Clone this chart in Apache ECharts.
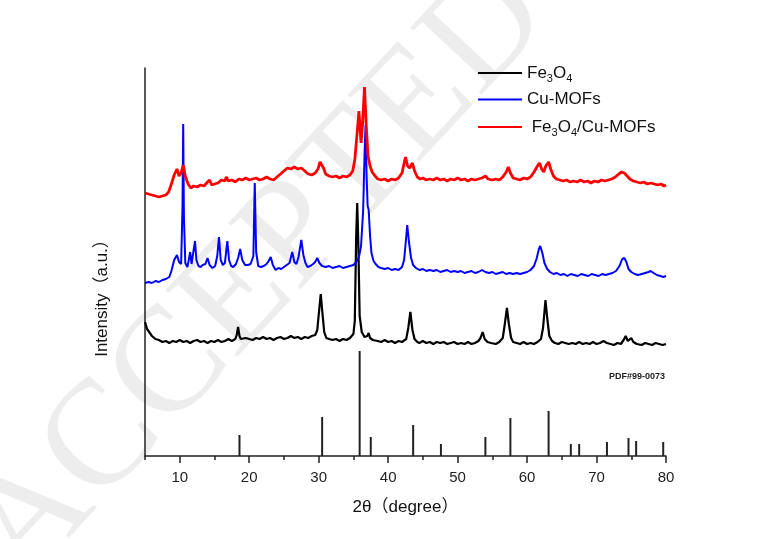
<!DOCTYPE html>
<html>
<head>
<meta charset="utf-8">
<script src="https://cdn.jsdelivr.net/npm/echarts@6/dist/echarts.min.js"></script>
<style>
html, body {margin: 0; padding: 0; background: #fff;}
#main {width: 763px; height: 539px;}
</style>
</head>
<body>
<div id="main"></div>
<script>
// XRD 数据 (2θ, 强度 a.u.)
var fe3o4Line = [[5,134],[5.3,127],[5.6,124],[6,120],[6.5,117],[7,116],[7.5,114],[8,115],[8.5,113],[9,115],[9.5,114],[10,116],[10.5,114],[11,115],[11.5,113],[12,115],[12.5,116],[13,114],[13.5,115],[14,113],[14.5,115],[15,114],[15.5,116],[16,114],[16.5,115],[17,117],[17.5,115],[18,117],[18.2,121],[18.4,129],[18.6,120],[18.8,117],[19,116],[19.5,118],[20,117],[20.5,116],[21,118],[21.5,117],[22,119],[22.5,117],[23,118],[23.5,116],[24,118],[24.5,119],[25,117],[25.5,118],[26,120],[26.5,118],[27,119],[27.5,117],[28,119],[28.5,118],[29,120],[29.5,121],[29.8,126],[30.1,148],[30.3,162],[30.5,146],[30.8,124],[31.1,118],[31.5,117],[32,116],[32.5,117],[33,115],[33.5,117],[34,116],[34.5,118],[35,122],[35.2,135],[35.4,220],[35.55,253],[35.7,215],[35.9,140],[36.2,124],[36.6,119],[37,120],[37.2,123],[37.4,118],[37.8,116],[38.5,115],[39,114],[39.5,116],[40,114],[40.5,115],[41,113],[41.5,115],[42,114],[42.6,117],[42.9,128],[43.2,144],[43.5,126],[43.8,117],[44.2,114],[44.5,113],[45,115],[45.5,113],[46,114],[46.5,112],[47,114],[47.5,113],[48,114],[48.5,112],[49,113],[49.5,114],[50,112],[50.5,113],[51,112],[51.5,114],[52,112],[52.5,113],[53,115],[53.3,118],[53.6,124],[53.9,117],[54.3,114],[54.8,113],[55.5,112],[56,114],[56.5,118],[56.8,132],[57.1,148],[57.4,131],[57.7,118],[58,114],[58.5,113],[59,112],[59.5,114],[60,112],[60.5,113],[61,112],[61.5,114],[62,117],[62.3,128],[62.65,156],[62.9,138],[63.2,120],[63.6,115],[64,113],[64.5,112],[65,114],[65.5,113],[66,112],[66.5,113],[67,112],[67.5,114],[68,112],[68.5,113],[69,112],[69.5,114],[70,112],[70.5,113],[71,115],[71.2,116],[71.5,113],[72,112],[72.5,111],[73,113],[73.5,112],[73.9,116],[74.2,120],[74.5,115],[75,118],[75.3,114],[75.8,112],[76.5,111],[77,113],[77.5,112],[78,111],[78.5,113],[79,112],[79.5,111],[80,112]];

var cuMofLine = [[5,173],[5.5,174],[6,173],[6.5,175],[7,174],[7.5,176],[8,177],[8.5,179],[8.8,185],[9.2,196],[9.6,201],[9.9,194],[10.2,192],[10.4,250],[10.5,332],[10.6,240],[10.8,193],[11.1,189],[11.3,196],[11.5,204],[11.7,192],[11.9,191],[12.2,215],[12.4,196],[12.7,190],[13,189],[13.3,191],[13.7,192],[14,198],[14.3,191],[14.7,188],[15.1,190],[15.4,200],[15.65,219],[15.9,196],[16.2,191],[16.5,193],[16.85,215],[17.1,196],[17.4,190],[17.7,189],[18.1,192],[18.4,198],[18.7,207],[19,196],[19.4,191],[19.8,191],[20.2,192],[20.6,200],[20.8,273],[21,204],[21.3,190],[21.7,189],[22.1,190],[22.5,192],[22.8,195],[23.1,199],[23.4,191],[23.8,186],[24.2,188],[24.6,187],[25,189],[25.4,191],[25.8,193],[26.2,204],[26.5,194],[26.8,192],[27.1,199],[27.5,216],[27.8,201],[28.1,193],[28.4,189],[28.8,190],[29.2,192],[29.5,194],[29.8,198],[30.1,193],[30.5,190],[31,189],[31.5,190],[32,188],[32.5,189],[33,190],[33.5,188],[34,189],[34.5,190],[35,191],[35.4,194],[35.8,199],[36.1,210],[36.4,245],[36.6,300],[36.75,331],[36.9,280],[37.05,250],[37.2,246],[37.4,220],[37.6,203],[37.9,195],[38.2,192],[38.6,189],[39,188],[39.5,187],[40,188],[40.5,186],[41,187],[41.5,186],[42,189],[42.3,196],[42.55,215],[42.75,231],[43,214],[43.3,198],[43.6,191],[44,188],[44.5,186],[45,187],[45.5,185],[46,186],[46.5,185],[47,186],[47.5,184],[48,185],[48.5,186],[49,184],[49.5,185],[50,184],[50.5,185],[51,183],[51.5,184],[52,185],[52.5,183],[53,184],[53.5,186],[54,184],[54.5,183],[55,184],[55.5,182],[56,183],[56.5,184],[57,182],[57.5,183],[58,182],[58.5,183],[59,182],[59.5,183],[60,184],[60.5,186],[61,190],[61.4,198],[61.7,207],[61.9,210],[62.2,203],[62.5,193],[62.9,187],[63.3,184],[63.8,182],[64.3,183],[64.8,181],[65.3,182],[65.8,180],[66.3,182],[66.8,181],[67.3,180],[67.8,182],[68.3,181],[68.8,180],[69.3,182],[69.8,181],[70.3,180],[70.8,182],[71.3,181],[71.8,182],[72.3,183],[72.8,185],[73.3,190],[73.7,197],[74,198],[74.3,194],[74.6,187],[75,184],[75.5,182],[76,181],[76.5,182],[77,183],[77.5,184],[77.8,185],[78.2,183],[78.7,181],[79.2,180],[79.6,179],[80,180]];

var compositeLine = [[5,263],[5.5,262],[6,261],[6.5,260],[7,259],[7.5,260],[8,261],[8.4,264],[8.8,272],[9.2,281],[9.6,287],[9.9,280],[10.2,283],[10.5,291],[10.8,280],[11.2,272],[11.6,268],[12,270],[12.5,269],[13,271],[13.5,270],[14,274],[14.3,276],[14.6,271],[15,272],[15.5,273],[16,276],[16.5,275],[16.7,279],[17,275],[17.5,276],[18,274],[18.5,277],[19,276],[19.5,278],[20,276],[20.5,277],[21,278],[21.5,276],[22,277],[22.5,279],[23,277],[23.5,276],[24,279],[24.5,282],[25,285],[25.5,288],[26,287],[26.5,289],[27,287],[27.5,288],[28,285],[28.5,282],[29,281],[29.5,283],[29.9,287],[30.2,294],[30.4,296],[30.7,288],[31,282],[31.5,280],[32,279],[32.5,280],[33,278],[33.5,280],[34,279],[34.5,281],[34.9,285],[35.2,296],[35.5,320],[35.8,345],[36.1,313],[36.3,330],[36.6,369],[36.85,330],[37.1,300],[37.4,290],[37.7,284],[38,281],[38.5,277],[39,276],[39.5,277],[40,275],[40.5,277],[41,276],[41.5,278],[42,283],[42.3,293],[42.5,299],[42.8,290],[43.1,288],[43.5,293],[43.8,285],[44.2,279],[44.6,277],[45,278],[45.5,276],[46,277],[46.5,276],[47,278],[47.5,276],[48,277],[48.5,275],[49,277],[49.5,276],[50,278],[50.5,276],[51,277],[51.5,275],[52,277],[52.5,276],[53,277],[53.5,278],[54,280],[54.4,277],[55,276],[55.5,277],[56,276],[56.5,279],[57,284],[57.3,289],[57.6,283],[58,278],[58.5,277],[59,276],[59.5,278],[60,277],[60.5,279],[61,284],[61.5,290],[61.8,293],[62.1,287],[62.4,284],[62.7,290],[63.1,294],[63.4,287],[63.8,280],[64.2,277],[64.7,276],[65.2,275],[65.7,276],[66.2,274],[66.7,275],[67.2,274],[67.7,276],[68.2,274],[68.7,275],[69.2,273],[69.7,275],[70.2,274],[70.7,276],[71.2,275],[71.7,276],[72.2,277],[72.7,279],[73.2,282],[73.6,284],[74,283],[74.4,280],[74.8,277],[75.3,275],[75.8,274],[76.3,273],[76.8,274],[77.3,272],[77.8,273],[78.3,272],[78.8,271],[79.3,272],[79.7,270],[80,271]];

// 标准卡片 PDF#99-0073 的衍射线
var pdfPos = [18.6, 30.5, 35.9, 37.5, 43.6, 47.6, 54.0, 57.6, 63.1, 66.3, 67.5, 71.5, 74.6, 75.7, 79.6];
var pdfInt = [21, 39, 105, 19, 31, 12, 19, 38, 45, 12, 12, 14, 18, 15, 14];

var seriesNames = ['Fe3O4', 'Cu-MOFs', 'Fe3O4/Cu-MOFs'];
var xLabels = [10, 20, 30, 40, 50, 60, 70, 80];

var font = '"Liberation Sans", Arial, "Noto Sans CJK SC", sans-serif';

var pdfData = [];
for (var i = 0; i < pdfPos.length; i++) {
    pdfData.push([pdfPos[i], pdfInt[i]]);
}

var myChart = echarts.init(document.getElementById('main'));
var option = {
    animation: false,
    backgroundColor: '#fff',
    grid: {left: 145, right: 97, top: 68, bottom: 83},
    legend: {
        data: seriesNames,
        orient: 'vertical',
        left: 477,
        top: 61,
        padding: 0,
        itemWidth: 44,
        itemHeight: 10,
        itemGap: 7,
        itemStyle: {opacity: 0},
        formatter: function (name) {
            if (name == 'Fe3O4') {
                return '{n|Fe}{s|3}{n|O}{s|4}';
            } else if (name == 'Fe3O4/Cu-MOFs') {
                return '{n| Fe}{s|3}{n|O}{s|4}{n|/Cu-MOFs}';
            }
            return '{n|' + name + '}';
        },
        textStyle: {
            rich: {
                n: {fontSize: 17, fontFamily: font, color: '#111', lineHeight: 22, verticalAlign: 'middle'},
                s: {fontSize: 11, fontFamily: font, color: '#111', lineHeight: 22, verticalAlign: 'bottom', padding: [12, 0, 0, 0]}
            }
        }
    },
    xAxis: [{
        type: 'value',
        min: 5,
        max: 80,
        interval: 5,
        name: '2θ（degree）',
        nameLocation: 'middle',
        nameGap: 43,
        nameTextStyle: {fontSize: 17, fontFamily: font, color: '#111'},
        axisLine: {lineStyle: {color: '#222', width: 1.5}},
        axisTick: {length: 4, lineStyle: {color: '#222', width: 1.5}},
        axisLabel: {customValues: xLabels, fontSize: 15, fontFamily: font, color: '#222', margin: 14},
        splitLine: {show: false}
    }, {
        // 主刻度 (10, 20, ...) 稍长
        type: 'value',
        min: 5,
        max: 80,
        interval: 5,
        position: 'bottom',
        offset: 0,
        axisLine: {show: false},
        axisTick: {customValues: xLabels, length: 7, lineStyle: {color: '#222', width: 1.5}},
        axisLabel: {show: false},
        splitLine: {show: false}
    }],
    yAxis: {
        type: 'value',
        min: 0,
        max: 388,
        axisLine: {show: true, lineStyle: {color: '#222', width: 1.5}},
        axisTick: {show: false},
        axisLabel: {show: false},
        splitLine: {show: false}
    },
    graphic: [{
        // 水印
        type: 'text',
        z: -10,
        silent: true,
        x: 50,
        y: 610,
        rotation: 47 * Math.PI / 180,
        style: {
            text: 'ACCEPTED MANUSCRIPT',
            font: '150px "Liberation Serif", serif',
            fill: 'rgba(0,0,0,0.07)',
            textAlign: 'left',
            textVerticalAlign: 'bottom'
        }
    }, {
        type: 'text',
        x: 102,
        y: 294,
        rotation: Math.PI / 2,
        style: {
            text: 'Intensity（a.u.）',
            font: '17px ' + font,
            fill: '#111',
            textAlign: 'center',
            textVerticalAlign: 'middle'
        }
    }, {
        type: 'text',
        x: 665,
        y: 377,
        style: {
            text: 'PDF#99-0073',
            font: 'bold 9px ' + font,
            fill: '#222',
            textAlign: 'right',
            textVerticalAlign: 'middle'
        }
    }],
    series: [{
        name: 'Fe3O4',
        type: 'line',
        symbol: 'none',
        data: fe3o4Line,
        lineStyle: {color: '#000', width: 2.2},
        itemStyle: {color: '#000'}
    }, {
        name: 'Cu-MOFs',
        type: 'line',
        symbol: 'none',
        data: cuMofLine,
        lineStyle: {color: '#0000ff', width: 2},
        itemStyle: {color: '#0000ff'}
    }, {
        name: 'Fe3O4/Cu-MOFs',
        type: 'line',
        symbol: 'none',
        data: compositeLine,
        lineStyle: {color: '#ff0000', width: 2.8},
        itemStyle: {color: '#ff0000'}
    }, {
        name: 'PDF#99-0073',
        type: 'custom',
        data: pdfData,
        renderItem: function (params, api) {
            var p0 = api.coord([api.value(0), 0]);
            var p1 = api.coord([api.value(0), api.value(1)]);
            return {
                type: 'line',
                shape: {x1: p0[0], y1: p0[1], x2: p1[0], y2: p1[1]},
                style: {stroke: '#222', lineWidth: 2}
            };
        }
    }]
};
myChart.setOption(option);
</script>
</body>
</html>
